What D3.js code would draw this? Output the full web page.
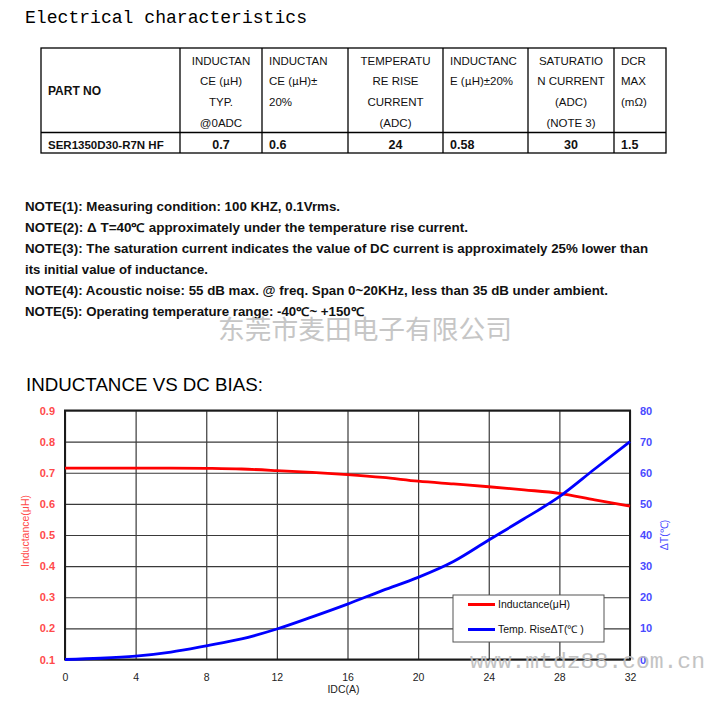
<!DOCTYPE html>
<html>
<head>
<meta charset="utf-8">
<script src="https://cdn.jsdelivr.net/npm/d3@7"></script>
<style>
  html, body { margin: 0; padding: 0; background: #fff; }
  svg { display: block; }
</style>
</head>
<body>
<svg id="page" width="725" height="708"></svg>
<script>
// ---- Table content ----
const headerLines = [
  ["PART NO"],
  ["INDUCTAN", "CE (μH)", "TYP.", "@0ADC"],
  ["INDUCTAN", "CE (μH)±", "20%"],
  ["TEMPERATU", "RE RISE", "CURRENT", "(ADC)"],
  ["INDUCTANC", "E (μH)±20%"],
  ["SATURATIO", "N CURRENT", "(ADC)", "(NOTE 3)"],
  ["DCR", "MAX", "(mΩ)"]
];
const partRow = ["SER1350D30-R7N HF", "0.7", "0.6", "24", "0.58", "30", "1.5"];

// ---- Notes ----
const notes = [
  "NOTE(1): Measuring condition: 100 KHZ, 0.1Vrms.",
  "NOTE(2):  Δ T=40℃ approximately under the temperature  rise current.",
  "NOTE(3): The saturation  current indicates the value of DC current is approximately 25% lower than",
  "its initial value of inductance.",
  "NOTE(4): Acoustic noise: 55 dB max. @ freq. Span 0~20KHz, less than 35 dB under ambient.",
  "NOTE(5): Operating temperature  range: -40℃~ +150℃"
];

// ---- Chart data: inductance and temperature rise vs DC current ----
const currentA   = [0, 2, 4, 6, 8, 10, 12, 14, 16, 18, 20, 22, 24, 26, 28, 30, 32];
const inductance = [0.715, 0.715, 0.715, 0.715, 0.714, 0.712, 0.707, 0.701, 0.694, 0.685, 0.673, 0.664, 0.655, 0.645, 0.634, 0.613, 0.593];
const tempRise   = [0, 0.4, 1.1, 2.4, 4.4, 6.6, 9.8, 13.7, 17.8, 22.2, 26.4, 31.5, 38.4, 45.2, 52.3, 61.2, 70];
const xTicks  = [0, 4, 8, 12, 16, 20, 24, 28, 32];
const yLTicks = [0.1, 0.2, 0.3, 0.4, 0.5, 0.6, 0.7, 0.8, 0.9];
const yRTicks = [0, 10, 20, 30, 40, 50, 60, 70, 80];
const legendLabels = ["Inductance(μH)", "Temp. RiseΔT(℃ )"];

const svg = d3.select("#page");
svg.append("rect").attr("width", 725).attr("height", 708).attr("fill", "#fff");

// ---- Page heading ----
svg.append("text")
  .attr("x", 25).attr("y", 22.5)
  .attr("font-family", "'Liberation Mono', monospace")
  .attr("font-size", 18.5)
  .attr("textLength", 282).attr("lengthAdjust", "spacingAndGlyphs")
  .attr("fill", "#000")
  .text("Electrical characteristics");

// ---- Spec table ----
const colEdges = [41, 180, 262, 348, 443, 528, 614, 666];
const colAlign = ["start", "middle", "start", "middle", "start", "middle", "start"];
const tTop = 48, tMid = 132.5, tBot = 153;
const tbl = svg.append("g");
tbl.append("rect")
  .attr("x", colEdges[0]).attr("y", tTop)
  .attr("width", colEdges[7] - colEdges[0]).attr("height", tBot - tTop)
  .attr("fill", "none").attr("stroke", "#000").attr("stroke-width", 1.3);
tbl.append("line").attr("x1", colEdges[0]).attr("x2", colEdges[7])
  .attr("y1", tMid).attr("y2", tMid).attr("stroke", "#000").attr("stroke-width", 1.3);
tbl.selectAll("line.col").data(colEdges.slice(1, 7)).join("line")
  .attr("class", "col")
  .attr("x1", d => d).attr("x2", d => d)
  .attr("y1", tTop).attr("y2", tBot)
  .attr("stroke", "#000").attr("stroke-width", 1.3);

function cellX(i) {
  return colAlign[i] === "middle" ? (colEdges[i] + colEdges[i + 1]) / 2 : colEdges[i] + 7;
}
// header lines; the micro sign is set in the CJK face, as in the printed sheet
function writeLine(sel, str) {
  str.split(/(μ)/).filter(s => s.length).forEach(part => {
    const ts = sel.append("tspan").text(part);
    if (part === "μ") ts.attr("font-family", "'Noto Sans CJK SC', sans-serif").attr("font-size", 11);
  });
}
headerLines.forEach((lines, i) => {
  if (i === 0) {
    tbl.append("text")
      .attr("x", cellX(i)).attr("y", 95)
      .attr("font-family", "'Liberation Sans', Arial, sans-serif")
      .attr("font-size", 12).attr("font-weight", "bold").attr("fill", "#111")
      .text(lines[0]);
    return;
  }
  lines.forEach((line, k) => {
    const t = tbl.append("text")
      .attr("x", cellX(i)).attr("y", 64.5 + k * 20.7)
      .attr("text-anchor", colAlign[i])
      .attr("font-family", "'Liberation Sans', Arial, sans-serif")
      .attr("font-size", 11.5).attr("fill", "#111");
    writeLine(t, line);
  });
});
tbl.selectAll("text.val").data(partRow).join("text")
  .attr("class", "val")
  .attr("x", (d, i) => cellX(i))
  .attr("y", 148.5)
  .attr("text-anchor", (d, i) => colAlign[i])
  .attr("font-family", "'Liberation Sans', Arial, sans-serif")
  .attr("font-size", (d, i) => i === 0 ? 11.5 : 12.5)
  .attr("font-weight", "bold")
  .attr("fill", "#111")
  .text(d => d);

// ---- Notes block ----
const noteWidths = [315, 443, 623, 183, 583, 339];
svg.selectAll("text.note").data(notes).join("text")
  .attr("class", "note")
  .attr("x", 25)
  .attr("y", (d, i) => 210.5 + i * 21)
  .attr("font-family", "'Liberation Sans', Arial, sans-serif")
  .attr("font-size", 12)
  .attr("font-weight", "bold")
  .attr("fill", "#111")
  .attr("textLength", (d, i) => noteWidths[i])
  .attr("lengthAdjust", "spacingAndGlyphs")
  .text(d => d);

// Company name stamp
svg.append("text")
  .attr("x", 218).attr("y", 339)
  .attr("font-family", "'Noto Sans CJK SC', sans-serif")
  .attr("font-size", 26.5)
  .attr("textLength", 294).attr("lengthAdjust", "spacingAndGlyphs")
  .attr("fill", "#c6c6c6")
  .text("东莞市麦田电子有限公司");

// ---- Chart heading ----
svg.append("text")
  .attr("x", 26).attr("y", 390.5)
  .attr("font-family", "'Liberation Sans', Arial, sans-serif")
  .attr("font-size", 18.5)
  .attr("textLength", 237).attr("lengthAdjust", "spacingAndGlyphs")
  .attr("fill", "#000")
  .text("INDUCTANCE VS DC BIAS:");

// ---- Chart ----
const plot = { left: 65, right: 630, top: 410.5, bottom: 659.5 };
const x  = d3.scaleLinear().domain([0, 32]).range([plot.left, plot.right]);
const yL = d3.scaleLinear().domain([0.1, 0.9]).range([plot.bottom, plot.top]);
const yR = d3.scaleLinear().domain([0, 80]).range([plot.bottom, plot.top]);
const fontAxis = "'Liberation Sans', Arial, sans-serif";
const redLabel = "#ff4a4a", blueLabel = "#4a4aff";

// grid
const grid = svg.append("g");
grid.append("g")
  .attr("transform", `translate(0,${plot.bottom})`)
  .call(d3.axisBottom(x).tickValues(xTicks).tickSize(-(plot.bottom - plot.top)).tickFormat(""))
  .call(g => g.select(".domain").remove())
  .call(g => g.selectAll("line").attr("stroke", "#3a3a3a").attr("stroke-width", 1.2));
grid.append("g")
  .attr("transform", `translate(${plot.left},0)`)
  .call(d3.axisLeft(yL).tickValues(yLTicks).tickSize(-(plot.right - plot.left)).tickFormat(""))
  .call(g => g.select(".domain").remove())
  .call(g => g.selectAll("line").attr("stroke", "#3a3a3a").attr("stroke-width", 1.2));

// frame
svg.append("rect")
  .attr("x", plot.left).attr("y", plot.top)
  .attr("width", plot.right - plot.left).attr("height", plot.bottom - plot.top)
  .attr("fill", "none").attr("stroke", "#1a1a1a").attr("stroke-width", 2);

// axes labels
svg.append("g")
  .attr("transform", `translate(0,${plot.bottom})`)
  .call(d3.axisBottom(x).tickValues(xTicks).tickSize(0).tickPadding(14.5).tickFormat(d3.format("d")))
  .call(g => g.select(".domain").remove())
  .call(g => g.selectAll("text").attr("font-family", fontAxis).attr("font-size", 10.5)
                 .attr("fill", "#222"));
svg.append("g")
  .attr("transform", `translate(${plot.left},0)`)
  .call(d3.axisLeft(yL).tickValues(yLTicks).tickSize(0).tickPadding(10).tickFormat(d3.format(".1f")))
  .call(g => g.select(".domain").remove())
  .call(g => g.selectAll("text").attr("font-family", fontAxis).attr("font-size", 11)
                 .attr("font-weight", "bold").attr("fill", redLabel));
svg.append("g")
  .attr("transform", `translate(${plot.right},0)`)
  .call(d3.axisRight(yR).tickValues(yRTicks).tickSize(0).tickPadding(10).tickFormat(d3.format("d")))
  .call(g => g.select(".domain").remove())
  .call(g => g.selectAll("text").attr("font-family", fontAxis).attr("font-size", 11)
                 .attr("font-weight", "bold").attr("fill", blueLabel));

// axis titles
svg.append("text")
  .attr("transform", "translate(29,531) rotate(-90)")
  .attr("text-anchor", "middle")
  .attr("font-family", fontAxis).attr("font-size", 10.5)
  .attr("fill", redLabel)
  .text("Inductance(μH)");
svg.append("text")
  .attr("transform", "translate(668,535) rotate(-90)")
  .attr("text-anchor", "middle")
  .attr("font-family", fontAxis).attr("font-size", 10.5)
  .attr("fill", blueLabel)
  .text("ΔT(℃)");
svg.append("text")
  .attr("x", 343.5).attr("y", 693)
  .attr("text-anchor", "middle")
  .attr("font-family", fontAxis).attr("font-size", 10.5)
  .attr("fill", "#222")
  .text("IDC(A)");

// curves
const indLine = d3.line()
  .x((d, i) => x(currentA[i])).y(d => yL(d))
  .curve(d3.curveMonotoneX);
const tempLine = d3.line()
  .x((d, i) => x(currentA[i])).y(d => yR(d))
  .curve(d3.curveMonotoneX);
svg.append("path").attr("d", indLine(inductance))
  .attr("fill", "none").attr("stroke", "#ff0000").attr("stroke-width", 2.8);
svg.append("path").attr("d", tempLine(tempRise))
  .attr("fill", "none").attr("stroke", "#0000ff").attr("stroke-width", 2.8);

// legend
const lg = svg.append("g").attr("transform", "translate(453,595)");
lg.append("rect").attr("width", 151).attr("height", 47)
  .attr("fill", "#fff").attr("stroke", "#555").attr("stroke-width", 1);
const lgColors = ["#ff0000", "#0000ff"];
legendLabels.forEach((label, i) => {
  const yy = 9.5 + i * 25;
  lg.append("line").attr("x1", 15).attr("x2", 42).attr("y1", yy).attr("y2", yy)
    .attr("stroke", lgColors[i]).attr("stroke-width", 3);
  lg.append("text").attr("x", 45).attr("y", yy + 3.8)
    .attr("font-family", fontAxis).attr("font-size", 10.5).attr("fill", "#111")
    .text(label);
});

// site stamp across the lower right corner
svg.append("text")
  .attr("x", 470).attr("y", 668)
  .attr("font-family", "'Liberation Mono', monospace")
  .attr("font-size", 22)
  .attr("textLength", 235).attr("lengthAdjust", "spacingAndGlyphs")
  .attr("fill", "#bdbdbd").attr("opacity", 0.9)
  .text("www.mtdz88.com.cn");
</script>
</body>
</html>
